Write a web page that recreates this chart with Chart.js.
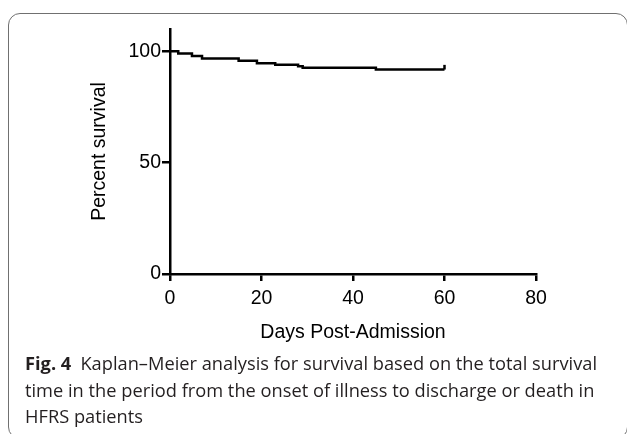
<!DOCTYPE html>
<html>
<head>
<meta charset="utf-8">
<script src="https://cdn.jsdelivr.net/npm/chart.js@4.4.1/dist/chart.umd.min.js"></script>
<style>
  html, body { margin:0; padding:0; background:#fff; width:627px; height:434px; overflow:hidden; }
  #frame { position:absolute; left:8px; top:13px; width:620px; height:426px; border:1.4px solid #707070; border-radius:12px; box-sizing:border-box; }
  #c { position:absolute; left:0; top:0; }
  #caption { position:absolute; left:25px; top:350px; font-family:"Open Sans", sans-serif; font-size:17.5px; line-height:26.5px; color:#231f20; white-space:nowrap; }
  #caption span.l { display:inline-block; transform-origin:0 50%; }
  #caption b { font-weight:700; }
</style>
</head>
<body>
<div id="frame"></div>
<canvas id="c" width="627" height="434"></canvas>
<div id="caption">
  <span class="l" id="l1"><b>Fig. 4</b>&ensp;Kaplan–Meier analysis for survival based on the total survival</span><br>
  <span class="l" id="l2">time in the period from the onset of illness to discharge or death in</span><br>
  <span class="l" id="l3">HFRS patients</span>
</div>
<script>
// ---- data ----
const days       = [0, 1.8, 4.8, 7, 15, 19, 23, 28, 29, 45, 60];
const survival   = [100, 99, 97.9, 96.8, 95.8, 94.6, 94, 93.3, 92.6, 91.8, 91.8];
const censorDays = [60, 60];
const censorVals = [91.8, 93.9];
const xTicks = [0, 20, 40, 60, 80];
const yTicks = [0, 50, 100];
const xTitle = 'Days Post-Admission';
const yTitle = 'Percent survival';

const tickFont = { family: '"Liberation Sans", Arial, sans-serif', size: 19.5 };
const titleFont = { family: '"Liberation Sans", Arial, sans-serif', size: 19.5 };

new Chart(document.getElementById('c'), {
  type: 'line',
  data: {
    datasets: [
      { data: days.map((d, i) => ({ x: d, y: survival[i] })), stepped: 'before',
        borderColor: '#000', borderWidth: 2.5, pointRadius: 0, fill: false, clip: false },
      { data: censorDays.map((d, i) => ({ x: d, y: censorVals[i] })),
        borderColor: '#000', borderWidth: 2.5, pointRadius: 0, fill: false, clip: false }
    ]
  },
  options: {
    responsive: false,
    animation: false,
    events: [],
    layout: { padding: { top: 29, right: 91, left: 0, bottom: 0 } },
    plugins: { legend: { display: false }, tooltip: { enabled: false } },
    scales: {
      x: {
        type: 'linear', min: 0, max: 80,
        afterBuildTicks: s => { s.ticks = xTicks.map(v => ({ value: v })); },
        afterFit: s => { s.height = 160; },
        ticks: { font: tickFont, color: '#000', padding: 6, maxRotation: 0 },
        grid: { display: true, drawOnChartArea: false, drawTicks: true, tickLength: 7, lineWidth: 2.5, color: '#000' },
        border: { display: true, color: '#000', width: 2.5 },
        title: { display: true, text: xTitle, font: titleFont, color: '#000', padding: { top: 0, bottom: 90 } }
      },
      y: {
        type: 'linear', min: 0, max: 110,
        afterBuildTicks: s => { s.ticks = yTicks.map(v => ({ value: v })); },
        afterFit: s => { s.width = 170; },
        ticks: { font: tickFont, color: '#000', padding: 1 },
        grid: { display: true, drawOnChartArea: false, drawTicks: true, tickLength: 8, lineWidth: 2.5, color: '#000' },
        border: { display: true, color: '#000', width: 2.5 },
        title: { display: true, text: yTitle, font: titleFont, color: '#000', padding: { top: 88, bottom: 0 } }
      }
    }
  }
});

// fit caption widths to the figure's condensed typeface
const l1 = document.getElementById('l1');
const s = 572 / l1.getBoundingClientRect().width;
document.querySelectorAll('#caption span.l').forEach(e => { e.style.transform = 'scaleX(' + s + ')'; });
</script>
</body>
</html>
